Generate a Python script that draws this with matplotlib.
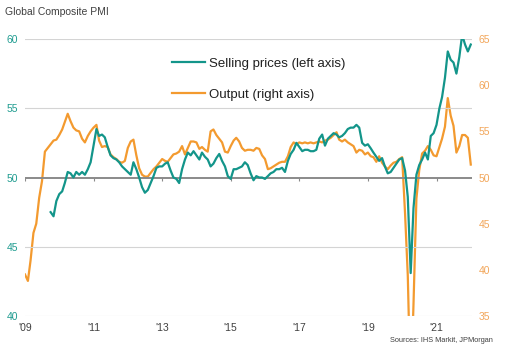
import numpy as np
import pandas as pd
import matplotlib
matplotlib.use("Agg")
import matplotlib.pyplot as plt
from matplotlib.lines import Line2D


# =========================
# DATA
# =========================
# output index, right axis, monthly Jan 2009 - Jan 2022
output_vals = [
    39.5, 38.8, 41.0, 44.0, 45.0, 47.8, 49.6, 52.8, 53.2, 53.6, 54.0, 54.1,   # 2009
    54.6, 55.2, 56.0, 56.9, 56.1, 55.4, 55.1, 55.0, 54.2, 53.8, 54.5, 55.0,   # 2010
    55.4, 55.7, 54.0, 53.3, 53.4, 53.3, 52.5, 52.2, 52.0, 51.7, 51.6, 51.8,   # 2011
    53.2, 53.9, 54.1, 52.4, 51.0, 50.3, 50.1, 50.1, 50.5, 50.9, 51.2, 51.6,   # 2012
    52.0, 51.8, 51.7, 52.1, 52.5, 52.6, 52.8, 53.4, 52.5, 53.2, 53.9, 53.9,   # 2013
    53.8, 53.1, 53.3, 53.0, 52.8, 55.0, 55.2, 54.6, 54.2, 53.8, 52.8, 52.7,   # 2014
    53.4, 54.0, 54.3, 53.9, 53.2, 52.9, 53.0, 53.0, 52.9, 53.2, 53.1, 52.4,   # 2015
    52.0, 50.9, 51.0, 51.2, 51.4, 51.6, 51.7, 51.7, 52.3, 53.3, 53.8, 53.6,   # 2016
    53.8, 53.7, 53.8, 53.7, 53.8, 53.7, 53.8, 53.9, 53.8, 54.0, 54.1, 54.3,   # 2017
    54.6, 54.9, 54.1, 53.9, 54.1, 53.8, 53.6, 53.4, 52.7, 53.0, 52.9, 52.5,   # 2018
    52.7, 52.3, 52.2, 51.7, 52.3, 51.6, 51.2, 50.9, 51.3, 51.6, 51.7, 52.0,   # 2019
    52.2, 46.1, 39.4, 26.2, 36.3, 47.7, 50.8, 52.6, 52.9, 53.4, 53.0, 52.4,   # 2020
    52.3, 53.3, 54.2, 55.5, 58.6, 56.7, 55.6, 52.7, 53.4, 54.6, 54.6, 54.3,   # 2021
    51.4,                                                                     # 2022
]

# selling prices index, left axis, monthly Oct 2009 - Jan 2022
prices_vals = [
    47.5, 47.2, 48.3,                                                         # 2009
    48.8, 49.0, 49.6, 50.4, 50.3, 50.0, 50.4, 50.2, 50.4, 50.2, 50.6, 51.1,   # 2010
    52.3, 53.5, 53.0, 53.1, 52.9, 52.2, 51.6, 51.4, 51.3, 51.1, 50.8, 50.6,   # 2011
    50.4, 50.2, 51.1, 50.6, 50.0, 49.3, 48.9, 49.1, 49.6, 50.1, 50.7, 50.8,   # 2012
    50.8, 51.0, 51.1, 50.5, 50.0, 49.9, 49.6, 50.6, 51.3, 51.8, 51.6, 51.9,   # 2013
    51.6, 51.3, 51.8, 51.5, 51.3, 50.8, 51.0, 51.4, 51.7, 51.2, 50.8, 50.1,   # 2014
    49.9, 50.6, 50.6, 50.7, 50.8, 51.1, 50.9, 50.3, 49.8, 50.1, 50.0, 50.0,   # 2015
    49.9, 50.1, 50.3, 50.4, 50.6, 50.6, 50.7, 50.4, 51.2, 51.7, 52.0, 52.5,   # 2016
    52.2, 51.9, 52.0, 52.0, 51.9, 51.9, 52.0, 52.8, 53.1, 52.3, 52.8, 53.0,   # 2017
    53.2, 53.1, 52.9, 53.0, 53.2, 53.5, 53.6, 53.6, 53.8, 53.6, 52.5, 52.3,   # 2018
    52.4, 52.1, 51.8, 51.5, 51.2, 51.4, 50.8, 50.3, 50.4, 50.7, 51.0, 51.3,   # 2019
    51.4, 50.5, 48.6, 43.1, 47.8, 50.2, 50.9, 51.3, 51.8, 51.3, 53.0, 53.2,   # 2020
    53.8, 55.0, 55.8, 57.2, 59.1, 58.5, 58.3, 57.5, 58.7, 60.3, 59.6, 59.1,   # 2021
    59.6,                                                                     # 2022
]

output_dates = pd.date_range("2009-01-01", periods=len(output_vals), freq="MS")
prices_dates = pd.date_range("2009-10-01", periods=len(prices_vals), freq="MS")

year_ticks = pd.to_datetime(["2009-01-01", "2011-01-01", "2013-01-01", "2015-01-01",
                             "2017-01-01", "2019-01-01", "2021-01-01"])
year_labels = ["'09", "'11", "'13", "'15", "'17", "'19", "'21"]
left_ticks = [40, 45, 50, 55, 60]
right_ticks = [35, 40, 45, 50, 55, 60, 65]


# =========================
# STYLE
# =========================
TEAL = "#13958a"
ORANGE = "#f39a2f"
TEAL_TXT = "#1f9c90"
ORANGE_TXT = "#f2a65a"
GREY_TXT = "#404040"

plt.rcParams["font.family"] = ["Liberation Sans", "DejaVu Sans"]

fig = plt.figure(figsize=(5.06, 3.57), dpi=100)
ax = fig.add_axes([0.0494, 0.1148, 0.8834, 0.776])
ax2 = ax.twinx()

# left axis: gridlines + 50 line
for v in left_ticks:
    if v == 50:
        ax.axhline(v, color="#8a8a8a", lw=1.4, zorder=1)
    else:
        ax.axhline(v, color="#d4d4d4", lw=0.8, zorder=1)
ax.vlines(year_ticks, 49.78, 50, color="#8a8a8a", lw=0.8, zorder=1)

ax2.plot(output_dates, output_vals, color=ORANGE, lw=1.6, zorder=2)
ax.plot(prices_dates, prices_vals, color=TEAL, lw=1.6, zorder=3)

# teal drawn above orange
ax.set_zorder(ax2.get_zorder() + 1)
ax.patch.set_visible(False)

ax.set_xlim(pd.Timestamp("2009-01-01"), pd.Timestamp("2022-01-14"))
ax.set_ylim(40, 60)
ax2.set_ylim(35, 65)

ax.set_yticks(left_ticks)
ax.set_yticklabels([str(v) for v in left_ticks])
ax2.set_yticks(right_ticks)
ax2.set_yticklabels([str(v) for v in right_ticks])
ax.set_xticks(year_ticks)
ax.set_xticklabels(year_labels)

ax.tick_params(axis="y", length=0, pad=5, labelsize=7.5, labelcolor=TEAL_TXT)
ax2.tick_params(axis="y", length=0, pad=5, labelsize=7.5, labelcolor=ORANGE_TXT)
ax.tick_params(axis="x", length=0, pad=5, labelsize=7.5, labelcolor=GREY_TXT)

for a in (ax, ax2):
    for s in a.spines.values():
        s.set_visible(False)

# legend
handles = [Line2D([], [], color=TEAL, lw=1.6), Line2D([], [], color=ORANGE, lw=1.6)]
leg = ax.legend(handles, ["Selling prices (left axis)", "Output (right axis)"],
                loc="upper left", bbox_to_anchor=(0.318, 0.953), frameon=False,
                fontsize=9.5, handlelength=2.5, handletextpad=0.25,
                labelspacing=1.45, borderaxespad=0)
for t in leg.get_texts():
    t.set_color("#202020")

fig.text(0.01, 0.965, "Global Composite PMI", fontsize=7.5, color=GREY_TXT,
         ha="left", va="center")
fig.text(0.975, 0.045, "Sources: IHS Markit, JPMorgan", fontsize=5.3,
         color=GREY_TXT, ha="right", va="center")

fig.savefig("out.png", dpi=100)
